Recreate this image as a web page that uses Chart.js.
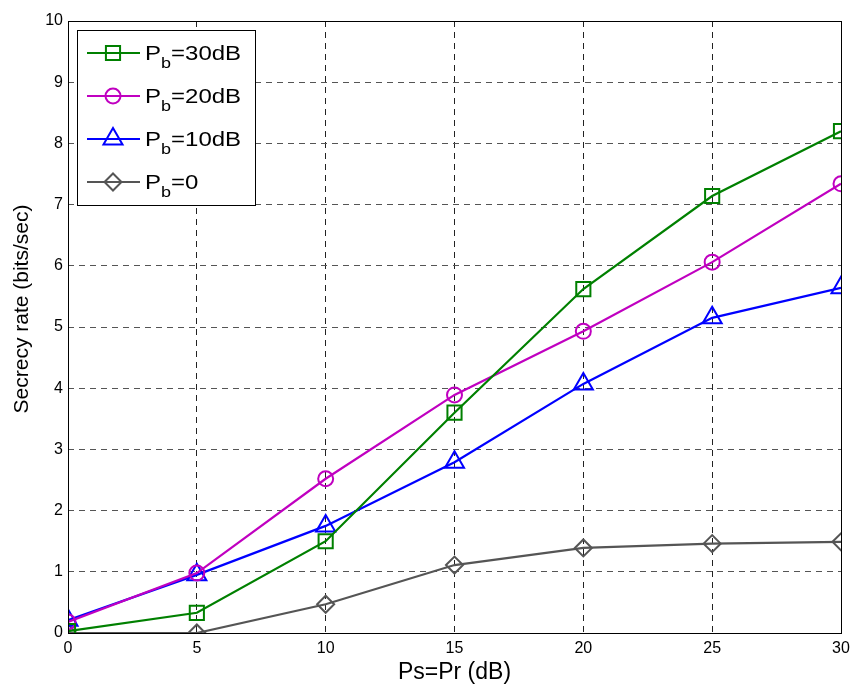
<!DOCTYPE html>
<html>
<head>
<meta charset="utf-8">
<script src="https://cdn.jsdelivr.net/npm/chart.js@4"></script>
<style>
  html, body { margin: 0; padding: 0; background: #fff; }
  #myChart { display: block; }
</style>
</head>
<body>
<canvas id="myChart" width="854" height="686"></canvas>
<script>
// x values (Ps=Pr in dB)
var power_db = [0, 5, 10, 15, 20, 25, 30]
// secrecy rate for each Pb
var rate_pb30 = [0.03, 0.33, 1.50, 3.60, 5.62, 7.14, 8.20]
var rate_pb20 = [0.18, 0.98, 2.52, 3.89, 4.93, 6.06, 7.34]
var rate_pb10 = [0.21, 0.95, 1.75, 2.79, 4.07, 5.15, 5.64]
var rate_pb0 = [0.00, 0.00, 0.47, 1.11, 1.39, 1.46, 1.49]
// legend texts: main part, subscript, rest
var legend_names = [['P', 'b', '=30dB'], ['P', 'b', '=20dB'], ['P', 'b', '=10dB'], ['P', 'b', '=0']]
var y_title = 'Secrecy rate (bits/sec)'
var x_title = 'Ps=Pr (dB)'

var FONT = '"Liberation Sans", Arial, sans-serif'

function pts(ys){
    var out = []
    for (let i = 0; i < power_db.length; i++){
        out.push({x: power_db[i], y: ys[i]})
    }
    return out
}

function makeSet(ys, color, style, radius){
    return {
        data: pts(ys),
        borderColor: color,
        backgroundColor: 'rgba(0,0,0,0)',
        borderWidth: 2.2,
        pointStyle: style,
        pointRadius: radius,
        pointBorderWidth: 2,
        pointBackgroundColor: 'rgba(0,0,0,0)',
        pointBorderColor: color,
        tension: 0
    }
}

// box around plot, y title and a legend with subscripts
const boxAndLegend = {
    id: 'boxAndLegend',
    afterDraw(chart){
        const c = chart.ctx
        const a = chart.chartArea
        c.save()
        c.strokeStyle = '#000'
        c.lineWidth = 1
        c.setLineDash([])
        c.strokeRect(a.left + 0.5, a.top + 0.5, a.right - a.left, a.bottom - a.top)

        // y axis title (sits a bit above centre like the original)
        c.save()
        c.translate(22, (a.top + a.bottom) / 2 - 18)
        c.rotate(-Math.PI / 2)
        c.fillStyle = '#000'
        c.font = '21px ' + FONT
        c.textAlign = 'center'
        c.textBaseline = 'middle'
        c.fillText(y_title, 0, 0)
        c.restore()

        // legend box
        var lx = a.left + 9, ly = a.top + 9, lw = 178, lh = 175
        c.fillStyle = '#fff'
        c.fillRect(lx, ly, lw, lh)
        c.strokeRect(lx + 0.5, ly + 0.5, lw, lh)
        chart.data.datasets.forEach(function(ds, i){
            var yy = ly + 23 + i * 43
            c.strokeStyle = ds.borderColor
            c.lineWidth = 2
            c.beginPath()
            c.moveTo(lx + 10, yy)
            c.lineTo(lx + 63, yy)
            c.stroke()
            c.fillStyle = 'rgba(0,0,0,0)'
            Chart.helpers.drawPoint(c, {
                pointStyle: ds.pointStyle,
                radius: ds.pointRadius,
                borderWidth: 2
            }, lx + 36, yy)
            // text is a little wide in the original, stretch it
            c.save()
            c.translate(lx + 68, yy)
            c.scale(1.2, 1)
            c.fillStyle = '#000'
            c.textAlign = 'left'
            c.textBaseline = 'alphabetic'
            var t = legend_names[i]
            var tx = 0
            c.font = '20px ' + FONT
            c.fillText(t[0], tx, 7)
            tx += c.measureText(t[0]).width
            c.font = '15px ' + FONT
            c.fillText(t[1], tx, 15)
            tx += c.measureText(t[1]).width
            c.font = '20px ' + FONT
            c.fillText(t[2], tx, 7)
            c.restore()
        })
        c.restore()
    }
}

const ctx = document.getElementById('myChart');
new Chart(ctx, {
    type: 'line',
    data: {
        datasets: [
            makeSet(rate_pb30, '#008000', 'rect', 10),
            makeSet(rate_pb20, '#c000c0', 'circle', 7.5),
            makeSet(rate_pb10, '#0000ff', 'triangle', 11),
            makeSet(rate_pb0, '#555555', 'rectRot', 8.5)
        ]
    },
    options: {
        responsive: false,
        animation: false,
        layout: { padding: { left: 0, right: 9, top: 21, bottom: 0 } },
        plugins: {
            legend: { display: false },
            tooltip: { enabled: false }
        },
        scales: {
            x: {
                type: 'linear',
                min: 0,
                max: 30,
                ticks: {
                    stepSize: 5,
                    color: '#000',
                    padding: 6,
                    font: { size: 16, family: FONT }
                },
                grid: {
                    color: '#222',
                    tickLength: 0,
                    lineWidth: 1
                },
                border: { display: false, dash: [6, 5] },
                title: {
                    display: true,
                    text: x_title,
                    color: '#000',
                    padding: { top: 3, bottom: 0 },
                    font: { size: 23, family: FONT }
                },
                afterFit(scale){
                    scale.height = 53
                    scale.paddingRight = 0
                    scale.paddingLeft = 0
                }
            },
            y: {
                min: 0,
                max: 10,
                ticks: {
                    stepSize: 1,
                    color: '#000',
                    padding: 5,
                    font: { size: 16, family: FONT }
                },
                grid: {
                    color: '#555',
                    tickLength: 0,
                    lineWidth: 1
                },
                border: { display: false, dash: [6, 5] },
                afterFit(scale){ scale.width = 68 }
            }
        }
    },
    plugins: [boxAndLegend]
});
</script>
</body>
</html>
